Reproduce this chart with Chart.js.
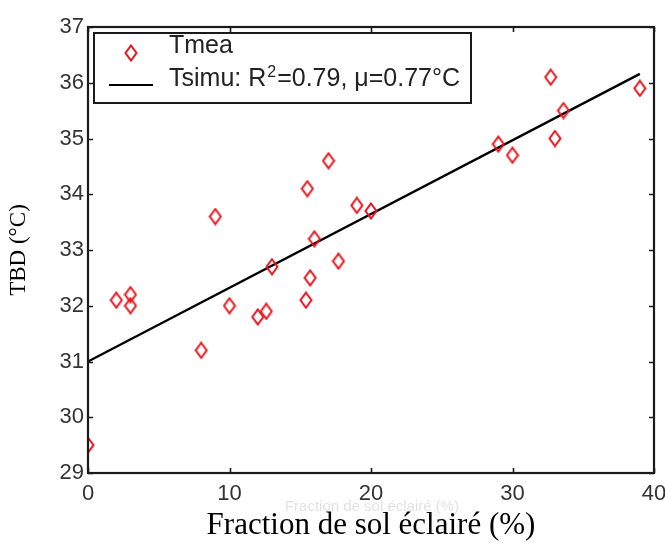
<!DOCTYPE html>
<html>
<head>
<meta charset="utf-8">
<script src="https://cdn.jsdelivr.net/npm/chart.js@4/dist/chart.umd.min.js"></script>
<style>
  html, body { margin: 0; padding: 0; background: #fff; }
  #wrap { width: 665px; height: 543px; }
</style>
</head>
<body>
<div id="wrap"><canvas id="c" width="665" height="543"></canvas></div>
<script>
// Measured ground temperature vs. sunlit ground fraction
const fractionEclaire = [0, 2, 3, 3, 8, 9, 10, 12, 12.6, 13, 15.4, 15.5, 15.7, 16, 17, 17.7, 19, 20, 29, 30, 32.7, 33, 33.6, 39];
const tbdMesure = [29.5, 32.1, 32.2, 32.0, 31.2, 33.6, 32.0, 31.8, 31.9, 32.7, 32.1, 34.1, 32.5, 33.2, 34.6, 32.8, 33.8, 33.7, 34.9, 34.7, 36.1, 35.0, 35.5, 35.9];

// Simulated (fitted) line end points
const simuX = [0, 39];
const simuY = [31.0, 36.16];

// Axis ticks
const xTicks = [0, 10, 20, 30, 40];
const yTicks = [29, 30, 31, 32, 33, 34, 35, 36, 37];

// Legend labels (the simulated one is drawn in pieces to raise the exponent)
const legendMea = 'Tmea';
const legendSimuParts = ['Tsimu: R', '2', '=0.79, \u03BC=0.77\u00B0C'];

const RED = '#e8141c';
const SANS = '"Liberation Sans", Arial, sans-serif';
const SERIF = '"Liberation Serif", "Times New Roman", serif';

// Hollow diamond marker
function makeDiamond() {
  const cv = document.createElement('canvas');
  cv.width = 14; cv.height = 18;
  const g = cv.getContext('2d');
  g.strokeStyle = RED;
  g.lineWidth = 2;
  g.beginPath();
  g.moveTo(7, 1.5);
  g.lineTo(12.5, 9);
  g.lineTo(7, 16.5);
  g.lineTo(1.5, 9);
  g.closePath();
  g.stroke();
  return cv;
}
const diamond = makeDiamond();

// Frame, inward ticks and the boxed legend
const framePlugin = {
  id: 'frame',
  afterDraw(chart) {
    const { ctx, chartArea: a, scales } = chart;
    const xs = scales.x, ys = scales.y;
    ctx.save();
    ctx.strokeStyle = '#1a1a1a';
    ctx.lineWidth = 1.6;
    const tl = 5;
    ctx.beginPath();
    xTicks.forEach(v => {
      const px = Math.round(xs.getPixelForValue(v)) + 0.5;
      ctx.moveTo(px, a.bottom); ctx.lineTo(px, a.bottom - tl);
      ctx.moveTo(px, a.top); ctx.lineTo(px, a.top + tl);
    });
    yTicks.forEach(v => {
      const py = Math.round(ys.getPixelForValue(v)) + 0.5;
      ctx.moveTo(a.left, py); ctx.lineTo(a.left + tl, py);
      ctx.moveTo(a.right, py); ctx.lineTo(a.right - tl, py);
    });
    ctx.stroke();

    ctx.lineWidth = 2.2;
    ctx.strokeRect(a.left, a.top, a.right - a.left, a.bottom - a.top);

    // legend box
    const bx = a.left + 6, by = a.top + 6, bw = 377, bh = 70;
    ctx.fillStyle = '#fff';
    ctx.fillRect(bx, by, bw, bh);
    ctx.lineWidth = 2;
    ctx.strokeStyle = '#1a1a1a';
    ctx.strokeRect(bx, by, bw, bh);

    ctx.drawImage(diamond, bx + 37 - diamond.width / 2, by + 20 - diamond.height / 2);
    ctx.beginPath();
    ctx.lineWidth = 2;
    ctx.strokeStyle = '#000';
    ctx.moveTo(bx + 15, by + 52);
    ctx.lineTo(bx + 59, by + 52);
    ctx.stroke();

    ctx.fillStyle = '#222';
    ctx.textBaseline = 'alphabetic';
    ctx.textAlign = 'left';
    ctx.font = '25px ' + SANS;
    ctx.fillText(legendMea, bx + 75, by + 20);
    let tx = bx + 75;
    const ty = by + 53;
    ctx.fillText(legendSimuParts[0], tx, ty);
    tx += ctx.measureText(legendSimuParts[0]).width;
    ctx.font = '16px ' + SANS;
    ctx.fillText(legendSimuParts[1], tx + 1, ty - 9);
    tx += ctx.measureText(legendSimuParts[1]).width + 2;
    ctx.font = '25px ' + SANS;
    ctx.fillText(legendSimuParts[2], tx, ty);

    // faint residual caption under the axis
    ctx.fillStyle = 'rgba(0,0,0,0.12)';
    ctx.font = '15px ' + SANS;
    ctx.textAlign = 'center';
    ctx.textBaseline = 'middle';
    ctx.fillText('Fraction de sol \u00E9clair\u00E9 (%)', 372, 507);
    ctx.restore();
  }
};

new Chart(document.getElementById('c'), {
  type: 'scatter',
  data: {
    datasets: [
      {
        label: legendMea,
        data: fractionEclaire.map((x, i) => ({ x, y: tbdMesure[i] })),
        pointStyle: diamond,
        pointRadius: 7,
        pointHoverRadius: 7
      },
      {
        label: legendSimuParts.join(''),
        type: 'line',
        data: simuX.map((x, i) => ({ x, y: simuY[i] })),
        borderColor: '#000',
        borderWidth: 2.4,
        pointRadius: 0,
        fill: false,
        tension: 0
      }
    ]
  },
  options: {
    responsive: false,
    animation: false,
    layout: { padding: { top: 27, right: 11, left: 0, bottom: 0 } },
    plugins: { legend: { display: false }, tooltip: { enabled: false } },
    scales: {
      x: {
        type: 'linear',
        min: 0, max: 40,
        afterBuildTicks: s => { s.ticks = xTicks.map(v => ({ value: v })); },
        afterFit: s => { s.height = 70; s.paddingLeft = 0; s.paddingRight = 0; },
        grid: { display: false, drawTicks: false },
        border: { display: false },
        ticks: {
          color: '#333',
          padding: 8,
          maxRotation: 0,
          font: { family: SANS, size: 22 }
        },
        title: {
          display: true,
          text: 'Fraction de sol \u00E9clair\u00E9 (%)',
          color: '#000',
          font: { family: SERIF, size: 31, lineHeight: 1 },
          padding: { top: 0, bottom: 2 }
        }
      },
      y: {
        type: 'linear',
        min: 29, max: 37,
        afterBuildTicks: s => { s.ticks = yTicks.map(v => ({ value: v })); },
        afterFit: s => { s.width = 88; },
        grid: { display: false, drawTicks: false },
        border: { display: false },
        ticks: {
          color: '#333',
          padding: 4,
          font: { family: SANS, size: 22 }
        },
        title: {
          display: true,
          text: 'TBD (\u00B0C)',
          color: '#000',
          font: { family: SERIF, size: 23, lineHeight: 1.2 },
          padding: { top: 5, bottom: 0 }
        }
      }
    }
  },
  plugins: [framePlugin]
});
</script>
</body>
</html>
